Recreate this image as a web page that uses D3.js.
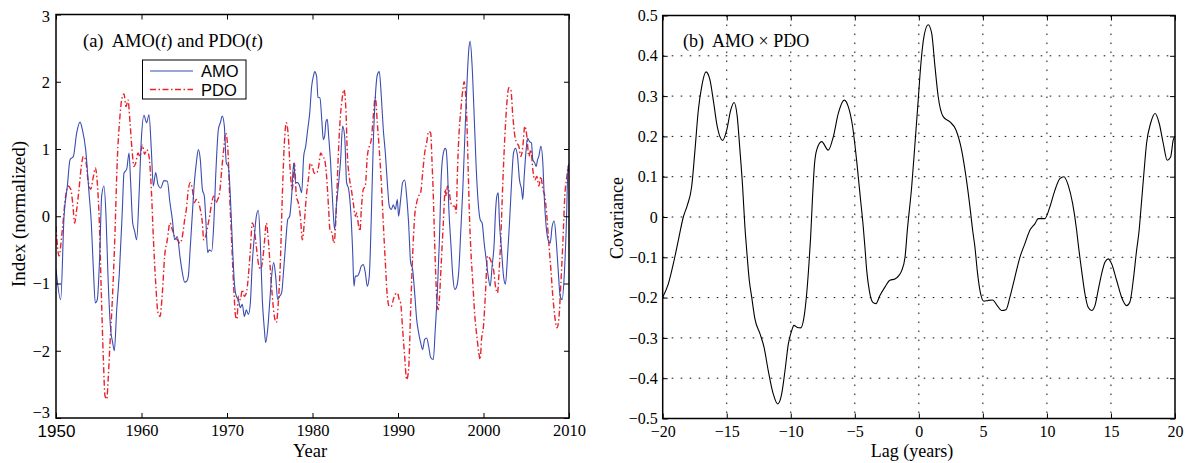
<!DOCTYPE html>
<html><head><meta charset="utf-8">
<script src="https://cdn.jsdelivr.net/npm/d3@7"></script>
<style>
body{margin:0;background:#fff;}
svg{display:block;}
</style></head><body>
<svg id="chart" width="1188" height="463"></svg>
<script>
// ---------------- DATA ----------------
const amoYears = [1950.0,1950.55,1950.94,1951.33,1951.64,1952.03,1952.42,1952.81,1953.08,1953.47,1953.86,1954.13,1954.37,1954.6,1954.83,1955.11,1955.34,1955.61,1955.85,1956.08,1956.39,1956.63,1956.82,1957.1,1957.41,1957.76,1957.95,1958.27,1958.54,1958.73,1958.97,1959.2,1959.43,1959.71,1959.98,1960.29,1960.6,1960.88,1961.15,1961.38,1961.66,1961.93,1962.24,1962.63,1963.02,1963.33,1963.61,1963.88,1964.19,1964.5,1964.78,1965.05,
1965.32,1965.48,1965.71,1965.98,1966.18,1966.41,1966.65,1966.88,1967.12,1967.35,1967.54,1967.74,1967.93,1968.21,1968.44,1968.71,1968.99,1969.22,1969.45,1969.69,1969.92,1970.16,1970.39,1970.66,1970.86,1971.09,1971.33,1971.56,1971.79,1972.03,1972.26,1972.5,1972.73,1972.96,1973.2,1973.43,1973.66,1973.9,1974.13,1974.37,1974.52,1974.76,1974.99,1975.22,1975.46,1975.69,1975.93,1976.16,1976.39,1976.63,1976.86,1977.1,1977.33,1977.56,1977.8,1978.03,1978.27,1978.5,1978.73,1978.97,1979.2,1979.44,1979.67,1979.9,1980.14,1980.25,
1980.48,1980.64,1980.87,1981.11,1981.26,1981.42,1981.58,1981.73,1981.89,1982.12,1982.36,1982.59,1982.82,1983.06,1983.29,1983.52,1983.76,1983.99,1984.23,1984.46,1984.69,1984.85,1985.01,1985.24,1985.47,1985.71,1985.94,1986.18,1986.41,1986.64,1986.88,1987.11,1987.35,1987.58,1987.81,1988.05,1988.28,1988.52,1988.75,1988.98,1989.22,1989.45,1989.68,1989.92,1990.07,1990.31,1990.54,1990.78,1991.01,1991.24,1991.48,1991.71,1991.95,1992.18,1992.41,1992.65,1992.88,1993.12,1993.35,1993.58,1993.82,1994.13,1994.36,1994.6,1994.83,1995.06,1995.3,1995.53,
1995.63,1995.79,1995.95,1996.18,1996.41,1996.65,1996.88,1997.12,1997.35,1997.58,1997.82,1998.05,1998.28,1998.44,1998.67,1998.91,1999.14,1999.38,1999.61,1999.84,2000.08,2000.31,2000.55,2000.78,2001.01,2001.25,2001.4,2001.56,2001.72,2001.87,2002.11,2002.34,2002.57,2002.81,2003.04,2003.28,2003.51,2003.74,2003.98,2004.21,2004.45,2004.6,2004.76,2004.99,2005.15,2005.38,2005.61,2005.77,2006.0,2006.16,2006.32,2006.47,2006.71,2006.94,2007.1,2007.33,2007.56,2007.8,2008.03,2008.27,2008.5,2008.73,2008.97,2009.2,2009.44,2009.67,2009.9,2010.0];
const amoValues = [-0.79,-1.24,0.0,0.45,0.84,0.89,1.24,1.40,1.29,0.99,0.35,-0.1,-0.79,-1.29,-1.24,-0.59,0.3,0.45,0.0,-0.89,-1.68,-1.88,-2.0,-1.39,-0.84,0.1,0.64,0.70,0.94,0.5,-0.1,-0.22,-0.35,0.3,1.14,1.5,1.39,1.51,0.99,0.45,0.65,0.47,0.42,0.53,0.52,0.2,-0.05,-0.35,-0.3,-0.6,-0.84,-0.98,
-0.96,-0.89,-0.45,0.1,0.5,0.79,0.99,0.84,0.4,0.3,-0.1,-0.54,-0.5,-0.52,-0.15,0.69,1.29,1.39,1.49,1.34,0.79,0.74,0.3,-0.5,-0.99,-1.19,-1.24,-1.36,-1.31,-1.49,-1.39,-1.46,-1.29,-0.69,-0.3,0.0,0.09,-0.4,-1.24,-1.68,-1.88,-1.68,-1.29,-0.89,-0.69,-0.89,-1.24,-1.19,-1.14,-0.79,-0.4,-0.05,0.0,0.3,0.79,0.5,0.5,0.45,0.35,0.89,1.04,1.29,1.53,1.93,2.1,2.15,
2.08,1.77,1.76,1.39,1.14,1.19,1.41,1.44,1.19,0.79,0.2,-0.2,0.2,0.5,0.84,1.34,1.19,0.5,0.4,0.1,-0.5,-1.04,-0.89,-0.89,-0.84,-0.74,-0.72,-0.84,-1.04,-0.89,0.0,1.09,1.78,2.1,2.15,1.78,1.29,0.94,0.5,0.15,0.1,0.17,0.1,0.25,0.0,0.25,0.5,0.54,0.3,-0.1,-0.69,-0.79,-1.14,-1.53,-1.73,-1.88,-1.98,-1.83,-1.81,-1.93,-2.1,-2.13,-1.68,-1.14,-0.4,0.59,0.94,1.01,
0.99,0.69,0.1,-0.4,-0.89,-1.09,-1.04,-0.79,-0.2,0.4,1.19,1.93,2.48,2.6,2.23,1.49,0.74,0.2,-0.05,-0.1,-0.4,-0.64,-0.89,-1.04,-0.74,-0.4,0.05,0.3,0.35,-0.1,-0.5,-0.89,-1.01,-0.59,-0.1,0.5,0.94,1.01,0.89,0.54,0.4,0.25,0.59,0.99,1.16,1.11,1.09,0.84,0.79,0.74,0.84,0.89,1.04,0.79,0.3,-0.15,-0.35,-0.4,-0.15,-0.07,-0.35,-0.79,-1.19,-1.24,-0.89,-0.2,0.74,0.78];

const pdoYears = [1950.0,1950.35,1950.74,1951.13,1951.4,1951.72,1951.95,1952.18,1952.42,1952.69,1952.96,1953.2,1953.47,1953.74,1954.05,1954.37,1954.6,1954.83,1955.07,1955.3,1955.54,1955.73,1955.93,1956.12,1956.32,1956.59,1956.86,1957.17,1957.45,1957.68,1957.95,1958.19,1958.42,1958.66,1958.89,1959.12,1959.32,1959.59,1959.82,1960.1,1960.37,1960.6,1960.88,1961.15,1961.38,1961.66,1961.93,1962.16,1962.44,1962.71,1963.02,1963.33,1963.61,1963.88,1964.19,1964.5,1964.78,1965.05,
1965.24,1965.48,1965.71,1965.95,1966.18,1966.41,1966.65,1966.88,1967.12,1967.27,1967.5,1967.74,1967.97,1968.21,1968.44,1968.67,1968.91,1969.14,1969.38,1969.61,1969.84,1970.08,1970.31,1970.55,1970.78,1971.01,1971.17,1971.33,1971.56,1971.79,1972.03,1972.26,1972.5,1972.73,1972.96,1973.2,1973.43,1973.66,1973.9,1974.13,1974.37,1974.6,1974.83,1975.07,1975.3,1975.54,1975.77,1976.0,1976.24,1976.47,1976.71,1976.94,1977.17,1977.41,1977.64,1977.88,1978.11,1978.34,1978.58,1978.81,1979.04,1979.28,1979.51,1979.75,1979.98,1980.21,
1980.48,1980.72,1980.95,1981.19,1981.42,1981.65,1981.89,1982.04,1982.28,1982.51,1982.75,1982.98,1983.21,1983.45,1983.68,1983.91,1984.07,1984.3,1984.54,1984.77,1985.01,1985.16,1985.4,1985.55,1985.71,1985.94,1986.18,1986.41,1986.64,1986.88,1987.11,1987.35,1987.58,1987.81,1988.05,1988.28,1988.52,1988.75,1988.98,1989.22,1989.45,1989.68,1989.92,1990.15,1990.31,1990.54,1990.78,1991.01,1991.24,1991.48,1991.71,1991.95,1992.18,1992.41,1992.65,1992.88,1993.12,1993.35,1993.58,1993.82,1993.97,1994.13,1994.29,1994.52,1994.68,1994.83,1995.06,1995.3,1995.53,
1995.63,1995.79,1995.95,1996.18,1996.41,1996.65,1996.8,1996.96,1997.12,1997.35,1997.58,1997.74,1997.9,1998.05,1998.21,1998.36,1998.52,1998.75,1998.99,1999.22,1999.45,1999.61,1999.77,2000.0,2000.23,2000.47,2000.7,2000.94,2001.17,2001.4,2001.64,2001.79,2002.03,2002.26,2002.5,2002.73,2002.96,2003.2,2003.43,2003.67,2003.9,2004.13,2004.37,2004.6,2004.83,2005.07,2005.3,2005.54,2005.77,2006.0,2006.24,2006.47,2006.71,2006.94,2007.17,2007.41,2007.64,2007.88,2008.11,2008.34,2008.58,2008.81,2009.05,2009.28,2009.51,2009.75,2009.9,2010.0];
const pdoValues = [-0.15,-0.59,-0.2,0.3,0.45,0.4,0.2,-0.1,0.1,0.4,0.74,0.89,0.84,0.54,0.4,0.59,0.72,0.5,-0.1,-1.14,-2.13,-2.67,-2.72,-2.38,-1.88,-1.24,-0.4,0.84,1.44,1.73,1.82,1.63,1.73,1.39,0.99,0.74,0.79,0.94,0.89,1.06,0.92,0.99,0.89,0.4,-0.3,-0.99,-1.44,-1.49,-1.14,-0.59,-0.35,-0.1,-0.2,-0.3,-0.35,-0.4,-0.3,-0.05,
0.1,0.4,0.5,0.4,0.2,0.25,0.22,0.1,-0.1,-0.35,-0.3,-0.15,0.0,0.2,0.3,0.2,0.25,0.35,0.69,0.99,1.24,1.04,0.3,-0.4,-1.04,-1.49,-1.53,-1.19,-1.24,-1.09,-1.19,-1.14,-0.89,-0.5,-0.1,-0.2,-0.45,-0.69,-0.79,-0.69,-0.4,-0.1,-0.35,-0.79,-1.19,-1.49,-1.58,-1.29,-0.69,0.3,1.09,1.39,1.19,0.64,0.4,0.79,0.3,0.2,0.0,-0.35,-0.1,0.3,0.54,0.79,0.74,0.64,
0.64,0.74,0.94,0.89,0.84,0.59,0.1,-0.2,-0.25,-0.4,0.0,0.79,1.39,1.73,1.88,1.58,0.94,0.59,0.4,0.2,0.0,0.05,-0.15,-0.22,0.1,0.4,0.45,0.89,1.04,1.14,1.49,1.77,1.39,0.99,0.5,-0.1,-0.69,-1.19,-1.34,-1.34,-1.24,-1.16,-1.14,-1.24,-1.29,-1.68,-2.08,-2.43,-2.28,-1.39,-0.59,0.0,0.2,0.3,0.35,0.64,0.94,1.09,1.26,1.24,0.84,0.3,-0.4,-1.19,-1.39,-1.24,-0.69,-0.1,0.4,
0.3,0.45,0.4,0.2,0.15,0.15,0.05,0.69,1.19,1.58,1.88,2.0,1.83,1.44,0.69,0.0,-0.5,-0.99,-1.49,-1.78,-2.03,-2.13,-1.83,-1.63,-1.14,-0.59,-0.62,-0.69,-0.79,-1.04,-1.14,-0.89,-0.3,0.5,1.19,1.68,1.91,1.88,1.49,1.19,1.09,1.04,0.89,1.04,1.34,1.19,0.89,0.99,0.69,0.54,0.59,0.45,0.59,0.4,0.3,0.0,-0.4,-0.79,-1.19,-1.49,-1.66,-1.53,-0.99,-0.4,0.3,0.59,0.74,0.65];

const lagValues = [-20,-19.56,-19.17,-18.78,-18.39,-18.08,-17.74,-17.48,-17.22,-16.96,-16.62,-16.31,-16.05,-15.74,-15.32,-15.0,-14.69,-14.43,-14.18,-13.97,-13.76,-13.58,-13.44,-13.24,-13.05,-12.8,-12.4,-12.09,-11.76,-11.37,-11.02,-10.71,-10.45,-10.19,-9.93,-9.75,-9.49,-9.23,-8.97,-8.76,-8.58,-8.45,-8.3,-8.15,-7.98,-7.59,-7.07,-6.68,-6.29,-5.82,-5.51,-5.17,-4.86,-4.6,-4.34,-4.21,-4.07,-3.87,-3.61,-3.35,-3.04,-2.65,-2.26,-1.87,-1.55,-1.34,-1.08,-0.9,-0.56,-0.3,-0.05,0.14,0.4,0.73,1.0,1.26,1.51,1.9,2.43,2.9,3.34,3.68,3.99,4.2,4.38,4.56,4.77,5.08,5.42,5.76,6.12,6.46,6.8,7.11,7.5,7.89,8.28,8.67,9.06,9.32,9.84,10.23,10.62,11.01,11.33,11.66,12.01,12.32,12.44,12.71,12.97,13.22,13.49,13.75,14.0,14.27,14.53,14.79,15.05,15.44,15.83,16.22,16.48,16.74,17.0,17.2,17.31,17.57,17.78,18.09,18.45,18.77,19.08,19.39,19.66,19.86,20];
const covValues = [-0.199,-0.166,-0.116,-0.058,0.0,0.029,0.075,0.166,0.265,0.323,0.36,0.34,0.29,0.224,0.19,0.216,0.265,0.284,0.249,0.166,0.075,-0.025,-0.083,-0.157,-0.199,-0.253,-0.29,-0.323,-0.381,-0.439,-0.464,-0.439,-0.381,-0.315,-0.282,-0.269,-0.274,-0.275,-0.249,-0.191,-0.116,-0.05,0.05,0.13,0.166,0.187,0.166,0.199,0.257,0.29,0.274,0.224,0.141,0.058,-0.025,-0.075,-0.133,-0.182,-0.211,-0.215,-0.195,-0.174,-0.157,-0.154,-0.145,-0.133,-0.1,-0.033,0.075,0.183,0.29,0.373,0.448,0.477,0.456,0.373,0.299,0.249,0.236,0.216,0.166,0.1,0.025,-0.033,-0.075,-0.133,-0.182,-0.209,-0.207,-0.206,-0.22,-0.232,-0.23,-0.199,-0.149,-0.1,-0.066,-0.033,-0.017,-0.004,-0.004,0.025,0.066,0.095,0.1,0.079,0.033,-0.033,-0.066,-0.133,-0.191,-0.224,-0.232,-0.22,-0.182,-0.141,-0.112,-0.104,-0.116,-0.157,-0.199,-0.22,-0.211,-0.157,-0.083,-0.033,0.008,0.108,0.183,0.232,0.257,0.232,0.183,0.141,0.149,0.191,0.2];

const yearTicks = [1950,1960,1970,1980,1990,2000,2010];
const indexTicks = [-3,-2,-1,0,1,2,3];
const lagTicks = [-20,-15,-10,-5,0,5,10,15,20];
const covTicks = [-0.5,-0.4,-0.3,-0.2,-0.1,0,0.1,0.2,0.3,0.4,0.5];

// ---------------- DRAW ----------------
const SERIF = '"Liberation Serif","Times New Roman",serif';
const SANS = '"Liberation Sans",Arial,sans-serif';
const svg = d3.select("#chart");

function styleAxis(g, size) {
  g.select(".domain").remove();
  g.selectAll("line").attr("stroke", "#000").attr("stroke-width", 1);
  g.attr("font-family", SERIF).attr("font-size", size);
  g.selectAll("text").attr("fill", "#000");
}

// ===== Panel (a) =====
const xL = d3.scaleLinear().domain([1950, 2010]).range([56, 569]);
const yL = d3.scaleLinear().domain([-3, 3]).range([418, 14.5]);
const gA = svg.append("g");

gA.append("clipPath").attr("id", "clipA").append("rect")
  .attr("x", xL(1950)).attr("y", yL(3)).attr("width", xL(2010) - xL(1950)).attr("height", yL(-3) - yL(3));

const lineA = d3.line().x((d) => xL(d[0])).y((d) => yL(d[1])).curve(d3.curveMonotoneX);
const amoData = amoYears.map((y, i) => [y, amoValues[i]]);
const pdoData = pdoYears.map((y, i) => [y, pdoValues[i]]);

const plotA = gA.append("g").attr("clip-path", "url(#clipA)");
plotA.append("path").datum(pdoData).attr("d", lineA)
  .attr("fill", "none").attr("stroke", "#e8232b").attr("stroke-width", 1.4)
  .attr("stroke-dasharray", "6,2.5,1.5,2.5");
plotA.append("path").datum(amoData).attr("d", lineA)
  .attr("fill", "none").attr("stroke", "#3a4cb0").attr("stroke-width", 1.1);

gA.append("g").attr("transform", `translate(0,${yL(-3)})`)
  .call(d3.axisBottom(xL).tickValues(yearTicks).tickSize(-5).tickPadding(6).tickFormat(d3.format("d")))
  .call((g) => styleAxis(g, 16.5));
gA.append("g").attr("transform", `translate(0,${yL(3)})`)
  .call(d3.axisTop(xL).tickValues(yearTicks).tickSize(-5).tickFormat(""))
  .call((g) => styleAxis(g, 16.5));
gA.append("g").attr("transform", `translate(${xL(1950)},0)`)
  .call(d3.axisLeft(yL).tickValues(indexTicks).tickSize(-5).tickPadding(6).tickFormat(d3.format("d")))
  .call((g) => styleAxis(g, 16.5));
gA.append("g").attr("transform", `translate(${xL(2010)},0)`)
  .call(d3.axisRight(yL).tickValues(indexTicks).tickSize(-5).tickFormat(""))
  .call((g) => styleAxis(g, 16.5));

// first year label appears in a sans face in the original
gA.selectAll(".tick text").filter((d) => d === 1950)
  .attr("font-family", SANS).attr("font-size", 17).attr("dy", "0.78em");
// end labels of the index axis sit slightly inside the box in the original
gA.selectAll(".tick text").filter((d) => d === -3).attr("dy", "-0.05em");
gA.selectAll(".tick text").filter((d) => d === 3).attr("dy", "0.42em");

gA.append("rect").attr("x", xL(1950)).attr("y", yL(3))
  .attr("width", xL(2010) - xL(1950)).attr("height", yL(-3) - yL(3))
  .attr("fill", "none").attr("stroke", "#000").attr("stroke-width", 1.5);

// title
const tA = gA.append("text").attr("x", 83).attr("y", 46.5)
  .attr("font-family", SERIF).attr("font-size", 18.5).attr("fill", "#000")
  .style("white-space", "pre");
tA.append("tspan").text("(a)  AMO(");
tA.append("tspan").attr("font-style", "italic").text("t");
tA.append("tspan").text(") and PDO(");
tA.append("tspan").attr("font-style", "italic").text("t");
tA.append("tspan").text(")");

// legend
const leg = gA.append("g");
leg.append("rect").attr("x", 142.5).attr("y", 60).attr("width", 103.5).attr("height", 39)
  .attr("fill", "#fff").attr("stroke", "#000").attr("stroke-width", 1);
leg.append("line").attr("x1", 150).attr("x2", 193).attr("y1", 71).attr("y2", 71)
  .attr("stroke", "#3a4cb0").attr("stroke-width", 1.1);
leg.append("line").attr("x1", 150).attr("x2", 193).attr("y1", 89.5).attr("y2", 89.5)
  .attr("stroke", "#e8232b").attr("stroke-width", 1.4).attr("stroke-dasharray", "6,2.5,1.5,2.5");
leg.append("text").attr("x", 201).attr("y", 77).attr("font-family", SANS).attr("font-size", 16.5).text("AMO");
leg.append("text").attr("x", 201).attr("y", 95.5).attr("font-family", SANS).attr("font-size", 16.5).text("PDO");

// axis labels
gA.append("text").attr("x", 310).attr("y", 457).attr("text-anchor", "middle")
  .attr("font-family", SERIF).attr("font-size", 18.5).text("Year");
gA.append("text").attr("transform", "translate(25,214) rotate(-90)").attr("text-anchor", "middle")
  .attr("font-family", SERIF).attr("font-size", 19).text("Index (normalized)");

// ===== Panel (b) =====
const xR = d3.scaleLinear().domain([-20, 20]).range([662.7, 1175]);
const yR = d3.scaleLinear().domain([-0.5, 0.5]).range([418.5, 15.5]);
const gB = svg.append("g");

// dotted grid
const grid = gB.append("g").attr("stroke", "#111").attr("stroke-width", 1).attr("stroke-dasharray", "1.6,7.4");
grid.selectAll("line.v").data(lagTicks.slice(1, -1)).join("line").attr("class", "v")
  .attr("x1", (d) => xR(d)).attr("x2", (d) => xR(d)).attr("y1", yR(0.5)).attr("y2", yR(-0.5));
grid.selectAll("line.h").data(covTicks.slice(1, -1)).join("line").attr("class", "h")
  .attr("y1", (d) => yR(d)).attr("y2", (d) => yR(d)).attr("x1", xR(-20)).attr("x2", xR(20));

const covFmt = (d) => (Math.abs(d) < 1e-9 ? "0" : d3.format(".1f")(d));
gB.append("g").attr("transform", `translate(0,${yR(-0.5)})`)
  .call(d3.axisBottom(xR).tickValues(lagTicks).tickSize(-5).tickPadding(7).tickFormat(d3.format("d")))
  .call((g) => styleAxis(g, 16));
gB.append("g").attr("transform", `translate(0,${yR(0.5)})`)
  .call(d3.axisTop(xR).tickValues(lagTicks).tickSize(-5).tickFormat(""))
  .call((g) => styleAxis(g, 16));
gB.append("g").attr("transform", `translate(${xR(-20)},0)`)
  .call(d3.axisLeft(yR).tickValues(covTicks).tickSize(-5).tickPadding(5).tickFormat(covFmt))
  .call((g) => styleAxis(g, 16));
gB.append("g").attr("transform", `translate(${xR(20)},0)`)
  .call(d3.axisRight(yR).tickValues(covTicks).tickSize(-5).tickFormat(""))
  .call((g) => styleAxis(g, 16));

const covData = lagValues.map((l, i) => [l, covValues[i]]);
const lineB = d3.line().x((d) => xR(d[0])).y((d) => yR(d[1])).curve(d3.curveMonotoneX);
gB.append("path").datum(covData).attr("d", lineB)
  .attr("fill", "none").attr("stroke", "#000").attr("stroke-width", 1.1);

gB.append("rect").attr("x", xR(-20)).attr("y", yR(0.5))
  .attr("width", xR(20) - xR(-20)).attr("height", yR(-0.5) - yR(0.5))
  .attr("fill", "none").attr("stroke", "#000").attr("stroke-width", 1.5);

gB.append("text").attr("x", 683).attr("y", 46.5).attr("font-family", SERIF).attr("font-size", 18)
  .style("white-space", "pre").text("(b)  AMO \u00d7 PDO");
gB.append("text").attr("x", 912).attr("y", 457).attr("text-anchor", "middle")
  .attr("font-family", SERIF).attr("font-size", 18).text("Lag (years)");
gB.append("text").attr("transform", "translate(623,218) rotate(-90)").attr("text-anchor", "middle")
  .attr("font-family", SERIF).attr("font-size", 18).text("Covariance");
</script>
</body></html>
